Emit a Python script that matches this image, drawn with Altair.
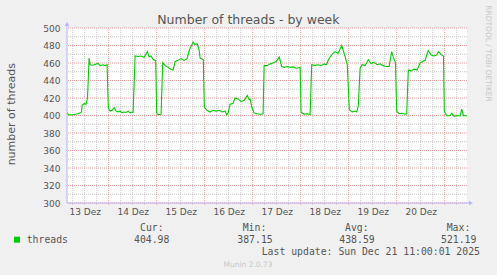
import altair as alt
import pandas as pd

# ---- data (hours since 13 Dec 00:00, number of threads) ----
hours = [3.15, 3.9, 5.7, 7.2, 8.7, 9.7, 10.4, 10.7, 11.7, 12.7,
         13.4, 14.2, 14.7, 16.2, 17.2, 18.7, 19.7, 21.2, 22.2, 23.2,
         23.8, 24.7, 25.7, 26.7, 27.7, 28.7, 29.7, 30.7, 31.7, 32.7,
         33.7, 34.7, 36.2, 37.2, 38.7, 40.2, 41.7, 43.3, 44.2, 45.2,
         46.2, 47.5, 48.0, 48.7, 50.2, 51.0, 52.2, 53.7, 55.2, 56.2,
         57.2, 58.7, 60.2, 61.7, 63.2, 64.2, 65.2, 66.2, 67.2, 68.2,
         69.2, 69.7, 71.3, 71.8, 73.2, 74.7, 76.2, 77.7, 79.2, 80.7,
         82.2, 83.0, 83.7, 84.7, 86.2, 87.2, 88.7, 90.2, 91.7, 93.3,
         94.2, 94.7, 95.5, 96.7, 98.2, 99.7, 101.2, 101.7, 103.2, 104.7,
         106.2, 107.7, 109.3, 110.5, 111.7, 113.2, 114.7, 116.2, 117.7, 119.7,
         120.2, 121.7, 123.2, 124.7, 125.5, 127.2, 128.7, 130.2, 131.7, 133.0,
         133.8, 135.7, 137.2, 138.7, 140.5, 142.2, 143.3, 144.3, 145.7, 147.2,
         148.0, 148.8, 149.7, 150.7, 152.2, 153.8, 155.2, 156.7, 158.2, 159.7,
         161.2, 162.7, 164.2, 165.5, 166.3, 167.4, 168.0, 169.2, 170.7, 172.2,
         173.0, 173.8, 175.2, 176.7, 178.2, 179.7, 181.2, 182.2, 183.0, 183.8,
         185.2, 186.7, 188.0, 188.8, 190.5, 191.4, 191.8, 193.2, 194.7, 195.5,
         196.7, 198.2, 199.7, 200.5, 201.4, 202.7, 203.15]
threads = [403.4, 401, 400.5, 401.5, 402, 403, 404, 412, 413.5, 413,
           420, 465.6, 458, 457.5, 458.5, 459.5, 457, 458, 457, 458,
           408.5, 405, 406, 409, 405, 404, 405, 403, 404, 403.5,
           405, 403, 404, 468, 467.5, 468, 466.5, 473, 467, 468,
           464, 463, 403, 401, 401.5, 460.5, 457, 455, 452.5, 452,
           461.7, 463, 465, 463, 465, 474, 479, 484, 481, 482,
           475, 465.6, 463.7, 409.6, 406, 404, 406, 405, 406, 404,
           405, 400.8, 403, 413, 414, 420, 419, 416, 417, 422.9,
           418, 418.7, 410, 403, 402, 401.5, 402, 457, 457, 459,
           460, 461.7, 466.7, 456, 455, 456, 455, 455.5, 454, 455,
           403.4, 401.6, 402, 401, 458, 457, 458, 457, 459, 458,
           463.6, 470, 473, 471, 480, 467.4, 458, 406.5, 404, 405,
           404, 411, 454, 458, 457, 463.7, 459, 461, 458, 459,
           457, 456, 456, 473, 467, 460, 404.6, 402, 402.5, 401.5,
           402, 452, 451, 453, 452, 460, 462, 463, 469, 474,
           469, 468, 469, 473, 469, 468, 404.6, 399.5, 400, 402.7,
           399, 400, 399.5, 407.3, 399.5, 400, 399.7]

x_domain = [3.15, 203.15]
y_domain = [300, 500]
y_label_values = [300, 320, 340, 360, 380, 400, 420, 440, 460, 480, 500]
y_major = [300, 320, 340, 360, 380, 400, 420, 440, 460, 480, 500]
y_minor = [310, 330, 350, 370, 390, 410, 430, 450, 470, 490]
x_major = [24, 48, 72, 96, 120, 144, 168, 192]
x_minor = [6, 12, 18, 30, 36, 42, 54, 60, 66, 78, 84, 90, 102, 108, 114,
           126, 132, 138, 150, 156, 162, 174, 180, 186, 198]
x_label_hours = [12, 36, 60, 84, 108, 132, 156, 180]  # noon of 13..20 Dez

title_text = "Number of threads - by week"
y_title = "number of threads"
series_name = "threads"
legend_heads = ["Cur:", "Min:", "Avg:", "Max:"]
legend_vals = ["404.98", "387.15", "438.59", "521.19"]
last_update = "Last update: Sun Dec 21 11:00:01 2025"
munin_ver = "Munin 2.0.73"
rrd_credit = "RRDTOOL / TOBI OETIKER"

GREEN = "#00CC00"
TXT = "#555555"
MINOR = "#C8C8C8"
MAJOR = "#E8A0A0"
AXIS = "#B4B4FF"
SANS = "DejaVu Sans"
MONO = "DejaVu Sans Mono"

xs = alt.Scale(domain=x_domain, nice=False, zero=False)
ys = alt.Scale(domain=y_domain, nice=False, zero=False)

x_axis = alt.Axis(
    values=x_label_hours, labelExpr="(floor(datum.value/24)+13) + ' Dez'",
    grid=False, ticks=False, domain=False, title=None,
    labelFont=SANS, labelFontSize=9, labelColor=TXT, labelPadding=4,
    labelOverlap=False, labelFlush=False)
y_axis = alt.Axis(
    values=y_label_values, format="d",
    grid=False, ticks=False, domain=False, title=None,
    labelFont=SANS, labelFontSize=9, labelColor=TXT, labelPadding=7,
    labelOverlap=False, labelFlush=False)

one = pd.DataFrame({"d": [0]})

minor_h = alt.Chart(pd.DataFrame({"v": y_minor})).mark_rule(
    color=MINOR, strokeDash=[1, 1], strokeWidth=1
).encode(y=alt.Y("v:Q", scale=ys, axis=y_axis))
minor_v = alt.Chart(pd.DataFrame({"h": x_minor})).mark_rule(
    color=MINOR, strokeDash=[1, 1], strokeWidth=1
).encode(x=alt.X("h:Q", scale=xs, axis=x_axis), y=alt.value(0), y2=alt.value(177))
major_h = alt.Chart(pd.DataFrame({"v": y_major})).mark_rule(
    color=MAJOR, strokeDash=[1, 1], strokeWidth=1
).encode(y=alt.Y("v:Q", scale=ys, axis=y_axis))
major_v = alt.Chart(pd.DataFrame({"h": x_major})).mark_rule(
    color=MAJOR, strokeDash=[1, 1], strokeWidth=1
).encode(x=alt.X("h:Q", scale=xs, axis=x_axis), y=alt.value(0), y2=alt.value(178))

line = alt.Chart(pd.DataFrame({"h": hours, "v": threads})).mark_line(
    color=GREEN, strokeWidth=1.1, clip=True
).encode(
    x=alt.X("h:Q", scale=xs, axis=x_axis),
    y=alt.Y("v:Q", scale=ys, axis=y_axis),
)

axis_y = alt.Chart(one).mark_rule(color=AXIS, strokeWidth=1).encode(
    x=alt.value(0), y=alt.value(-3), y2=alt.value(175))
axis_x = alt.Chart(one).mark_rule(color=AXIS, strokeWidth=1).encode(
    x=alt.value(0), x2=alt.value(402), y=alt.value(175))
arrow_up = alt.Chart(one).mark_point(
    shape="triangle-up", filled=True, color=AXIS, size=22, opacity=1
).encode(x=alt.value(0), y=alt.value(-4))
arrow_right = alt.Chart(one).mark_point(
    shape="triangle-right", filled=True, color=AXIS, size=22, opacity=1
).encode(x=alt.value(404), y=alt.value(175))


def txt(s, x, y, font=SANS, size=9.8, color=TXT, align="left",
        baseline="alphabetic", angle=0):
    return alt.Chart(pd.DataFrame({"t": [s]})).mark_text(
        font=font, fontSize=size, color=color, align=align,
        baseline=baseline, angle=angle
    ).encode(text="t:N", x=alt.value(x), y=alt.value(y))


texts = [
    txt(title_text, 181.4, -3.7, size=12.5, align="center"),
    txt(y_title, -52, 86.2, size=11, align="center", angle=270),
    txt(rrd_credit, 421, 25.5, size=7.5, color="#C8C8C8", align="center",
        baseline="middle", angle=90),
    txt(series_name, -40.3, 215.3, font=MONO),
    txt(last_update, 194.7, 227, font=MONO),
    txt(munin_ver, 181, 238.7, size=7.5, color="#C8C8C8", align="center"),
]
head_x = [73, 175.7, 278, 379.7]
val_x = [67, 170.3, 272.3, 374]
for s, x in zip(legend_heads, head_x):
    texts.append(txt(s, x, 202.5, font=MONO))
for s, x in zip(legend_vals, val_x):
    texts.append(txt(s, x, 215.3, font=MONO))

swatch = alt.Chart(one).mark_square(color=GREEN, size=36, opacity=1).encode(
    x=alt.value(-50), y=alt.value(211.7))

chart = alt.layer(
    minor_h, minor_v, major_h, major_v, line,
    axis_y, axis_x, arrow_up, arrow_right, swatch, *texts
).properties(
    width=400, height=175,
    autosize=alt.AutoSizeParams(type="none"),
    padding={"left": 67, "top": 28, "right": 30, "bottom": 72},
    background="#F0F0F0",
).configure_view(fill="white", strokeWidth=0)

chart.save("out.html", embed_options={"renderer": "svg", "actions": False})
